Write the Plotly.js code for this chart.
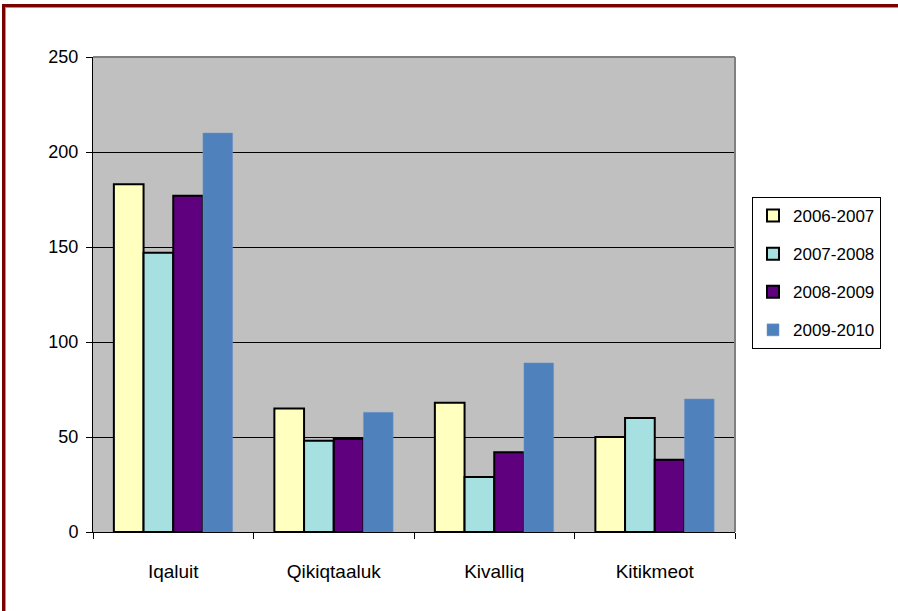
<!DOCTYPE html>
<html><head><meta charset="utf-8">
<script src="https://cdn.plot.ly/plotly-3.0.1.min.js"></script>
<style>
html,body{margin:0;padding:0;background:#fff;}
#wrap{position:relative;width:898px;height:611px;}
#chart{width:898px;height:611px;}
#frame{position:absolute;left:2px;top:4px;width:900px;height:620px;border-top:3px solid #7b0000;border-left:3px solid #7b0000;pointer-events:none;box-shadow:inset 1px 1px 0 #999;}
</style></head>
<body><div id="wrap"><div id="chart"></div><div id="frame"></div></div>
<script>
const categories = ["Iqaluit", "Qikiqtaaluk", "Kivalliq", "Kitikmeot"];
const seriesNames = ["2006-2007", "2007-2008", "2008-2009", "2009-2010"];
const v2006 = [183, 65, 68, 50];
const v2007 = [147, 48, 29, 60];
const v2008 = [177, 49, 42, 38];
const v2009 = [210, 63, 89, 70];
const yTicks = [0, 50, 100, 150, 200, 250];

const colors = ["#FFFFC0", "#A6E0E0", "#5F007F", "#4F81BD"];
const vals = [v2006, v2007, v2008, v2009];

const traces = vals.map((v, i) => ({
  type: "bar", x: categories, y: v, name: seriesNames[i], legendgroup: "g" + i,
  marker: {color: colors[i], line: {color: i < 3 ? "#000" : "#6f97c9", width: i < 3 ? 2 : 0.5}}
}));

const layout = {
  width: 898, height: 611,
  margin: {l: 93, r: 163, t: 57, b: 79},
  paper_bgcolor: "#fff", plot_bgcolor: "#C0C0C0",
  barmode: "group", bargap: 0.26, bargroupgap: 0,
  font: {family: "Liberation Sans, Arial, sans-serif", size: 18, color: "#000"},
  xaxis: {
    tickson: "boundaries", ticks: "outside", ticklen: 6, tickcolor: "#000",
    showline: true, linecolor: "#000", linewidth: 1, showgrid: false,
    tickfont: {size: 19}, ticklabelstandoff: 22
  },
  yaxis: {
    range: [0, 250], tickvals: yTicks, ticktext: yTicks.map(String),
    ticks: "outside", ticklen: 6, tickcolor: "#000",
    showline: true, linecolor: "#000", linewidth: 1,
    showgrid: true, gridcolor: "#000", gridwidth: 1, zeroline: false,
    tickfont: {size: 18}, ticklabelstandoff: 4
  },
  shapes: [
    {type: "line", xref: "paper", yref: "paper", x0: 0, x1: 1, y0: 1, y1: 1, line: {color: "#808080", width: 2}},
    {type: "line", xref: "paper", yref: "paper", x0: 1, x1: 1, y0: 0, y1: 1, line: {color: "#808080", width: 2}}
  ],
  legend: {
    x: 752/898, y: 1 - 197/611, xref: "container", yref: "container", xanchor: "left", yanchor: "top",
    bgcolor: "#fff", bordercolor: "#000", borderwidth: 1,
    font: {size: 17}, tracegroupgap: 13, itemwidth: 30
  },
  showlegend: true
};
Plotly.newPlot("chart", traces, layout, {displayModeBar: false, staticPlot: true});
</script></body></html>
